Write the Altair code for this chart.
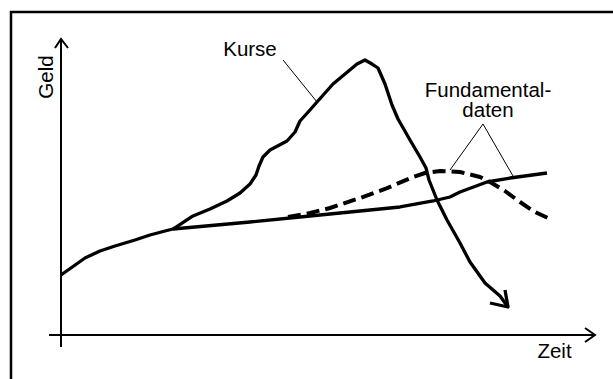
import altair as alt
import pandas as pd

# --- data (time units on x, money units on y; origin at the axis crossing) ---
base_x = [0, 4.8, 7.8, 10.8, 14.8, 17.8, 20.8, 22.4, 37.8, 47.8, 57.8, 67.8, 74.4, 77.8, 79.8, 85.2, 89.8, 97.2]
base_y = [20, 25.67, 28, 29.67, 31.67, 33.33, 34.67, 35.33, 37.67, 39.33, 41, 42.67, 44.67, 46, 47.67, 51, 52.33, 54]

kurse_x = [22.4, 26.4, 29.8, 33.2, 35.8, 37.8, 39.0, 39.6, 40.4, 41.8, 45.2, 46.8, 47.8, 49.8, 51.2, 54.4, 56.8,
           59.2, 60.8, 62.2, 63.4, 64.8, 66.2, 67.4, 69.8, 71.8, 73.0, 73.6, 75.2, 77.2, 79.8, 81.8, 84.8, 87.8, 89.4]
kurse_y = [35.33, 39.67, 42, 44.67, 47.33, 50.33, 53.33, 56.33, 59.33, 61.67, 64.67, 67.67, 71.33, 75, 77.67, 83.67, 87,
           90.33, 91.67, 90.33, 89, 83.67, 76.67, 72, 65, 59.33, 55.67, 51.67, 45, 38.33, 30.67, 24.33, 17.33, 13, 9.33]
kurse_head_x = [85.8, 89.4, 88.8]
kurse_head_y = [10.67, 9.33, 15]

fund_x = [45.4, 49.8, 53.8, 59.8, 64.8, 70.4, 72.8, 75.8, 79.8, 83.8, 85.8, 88.8, 91.8, 94.4, 97.4]
fund_y = [39.33, 40.67, 42.33, 45.67, 48.67, 52.67, 54, 54.67, 54.33, 52.67, 51, 48, 44.33, 41.33, 39]

kurse_leader_x = [44.4, 51.2]
kurse_leader_y = [91.67, 77.67]
fund_leader_x = [77.8, 84.4, 90.4]
fund_leader_y = [55, 70.33, 53]

yaxis_x = [0, 0]
yaxis_y = [-4, 98.67]
yhead_x = [-1.2, 0, 1.4]
yhead_y = [95.67, 98.67, 95.67]
xaxis_x = [-2.4, 106.8]
xaxis_y = [0, 0]
xhead_x = [104.8, 106.8, 104.8]
xhead_y = [2.33, 0, -2.33]

frame_x = [-10, -10, 120]
frame_y = [-20, 107.67, 107.67]

labels = ["Kurse", "Zeit"]
label_x = [37.8, 98.7]
label_y = [93, -7.67]
fund_label = ["Fundamental-\ndaten"]
fund_label_x = [85.4]
fund_label_y = [81.3]
ylabel = ["Geld"]
ylabel_x = [-1.6]
ylabel_y = [86]


def path(name, xs, ys):
    return pd.DataFrame({"g": name, "x": xs, "y": ys, "i": range(len(xs))})


thick = pd.concat([path("base", base_x, base_y), path("kurse", kurse_x, kurse_y),
                   path("khead", kurse_head_x, kurse_head_y)])
dashed = path("fund", fund_x, fund_y)
thin = pd.concat([path("kl", kurse_leader_x, kurse_leader_y), path("fl", fund_leader_x, fund_leader_y)])
axes = pd.concat([path("ya", yaxis_x, yaxis_y), path("yh", yhead_x, yhead_y),
                  path("xa", xaxis_x, xaxis_y), path("xh", xhead_x, xhead_y)])
frame = path("frame", frame_x, frame_y)
lab = pd.DataFrame({"t": labels, "x": label_x, "y": label_y})
flab = pd.DataFrame({"t": fund_label, "x": fund_label_x, "y": fund_label_y})
ylab = pd.DataFrame({"t": ylabel, "x": ylabel_x, "y": ylabel_y})

xs = alt.Scale(domain=[-12.2, 110.4], nice=False, zero=False)
ys = alt.Scale(domain=[-14.667, 111.667], nice=False, zero=False)
X = alt.X("x:Q", scale=xs, axis=None)
Y = alt.Y("y:Q", scale=ys, axis=None)


def lines(df, join="round", **kw):
    return alt.Chart(df).mark_line(color="black", strokeJoin=join, clip=True, **kw).encode(
        x=X, y=Y, detail="g:N", order="i:Q")


font = "Liberation Sans"
fs = 20.5
layers = [
    lines(frame, join="miter", strokeWidth=2.5),
    lines(axes, join="miter", strokeWidth=2),
    lines(thin, strokeWidth=1),
    lines(dashed, strokeWidth=4, strokeDash=[13, 6]),
    lines(thick, strokeWidth=3.3),
    alt.Chart(lab).mark_text(font=font, fontSize=fs, align="center", baseline="alphabetic", color="black").encode(
        x=X, y=Y, text="t:N"),
    alt.Chart(flab).mark_text(font=font, fontSize=fs, align="center", baseline="middle", lineBreak="\n",
                              lineHeight=20, color="black").encode(x=X, y=Y, text="t:N"),
    alt.Chart(ylab).mark_text(font=font, fontSize=fs, align="center", baseline="alphabetic", angle=270,
                              color="black").encode(x=X, y=Y, text="t:N"),
]

chart = alt.layer(*layers).properties(
    width=613, height=379, padding=0, autosize=alt.AutoSizeParams(type="none"), background="white"
).configure_view(stroke=None)

chart.save("out.html", embed_options={"renderer": "svg", "actions": False})
